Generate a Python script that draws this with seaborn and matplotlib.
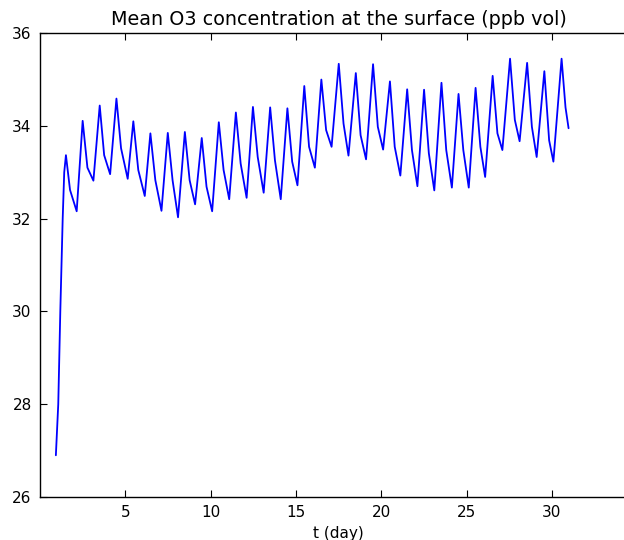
import numpy as np
import pandas as pd
import seaborn as sns
import matplotlib.pyplot as plt
import matplotlib as mpl

# spin-up at the start of the run
start_t = [0.93, 1.07, 1.19, 1.33, 1.42]
start_v = [26.90, 28.00, 30.00, 32.00, 33.00]

# daily maxima
peak_t = [1.52, 2.50, 3.50, 4.48, 5.47, 6.47, 7.49, 8.49, 9.48, 10.48,
          11.48, 12.48, 13.49, 14.50, 15.49, 16.49, 17.51, 18.51, 19.52, 20.51,
          21.52, 22.51, 23.53, 24.53, 25.53, 26.53, 27.55, 28.55, 29.56, 30.57]
peak_v = [33.37, 34.11, 34.44, 34.59, 34.10, 33.84, 33.85, 33.87, 33.74, 34.08,
          34.29, 34.41, 34.40, 34.38, 34.86, 35.00, 35.34, 35.14, 35.33, 34.96,
          34.79, 34.78, 34.93, 34.69, 34.82, 35.08, 35.45, 35.36, 35.18, 35.45]

# kink on the way down after each maximum
shoulder_t = [1.76, 2.78, 3.76, 4.75, 5.76, 6.76, 7.77, 8.77, 9.76, 10.76,
              11.76, 12.76, 13.77, 14.78, 15.77, 16.77, 17.79, 18.79, 19.80, 20.79,
              21.80, 22.79, 23.81, 24.81, 25.81, 26.81, 27.83, 28.83, 29.84, 30.80]
shoulder_v = [32.62, 33.10, 33.37, 33.52, 33.05, 32.83, 32.83, 32.83, 32.69, 33.05,
              33.19, 33.33, 33.26, 33.23, 33.55, 33.91, 34.05, 33.80, 33.98, 33.55,
              33.48, 33.41, 33.48, 33.48, 33.55, 33.84, 34.13, 33.98, 33.69, 34.40]

# daily minima (the last entry is the end of the run)
trough_t = [2.15, 3.13, 4.11, 5.14, 6.14, 7.12, 8.09, 9.09, 10.09, 11.09,
            12.11, 13.11, 14.11, 15.09, 16.11, 17.09, 18.08, 19.11, 20.11, 21.12,
            22.12, 23.11, 24.14, 25.13, 26.09, 27.10, 28.11, 29.11, 30.09, 30.98]
trough_v = [32.16, 32.82, 32.96, 32.86, 32.49, 32.17, 32.03, 32.31, 32.16, 32.42,
            32.45, 32.56, 32.42, 32.72, 33.10, 33.55, 33.36, 33.28, 33.49, 32.93,
            32.70, 32.61, 32.67, 32.67, 32.90, 33.48, 33.67, 33.33, 33.23, 33.95]

t = list(start_t)
o3 = list(start_v)
for i in range(len(peak_t)):
    t += [peak_t[i], shoulder_t[i], trough_t[i]]
    o3 += [peak_v[i], shoulder_v[i], trough_v[i]]
df = pd.DataFrame({"t": t, "o3": o3})

sns.set_style("ticks", {"xtick.direction": "in", "ytick.direction": "in",
                        "axes.edgecolor": "black", "text.color": "black",
                        "xtick.color": "black", "ytick.color": "black",
                        "axes.labelcolor": "black"})
mpl.rcParams['xtick.top'] = True
mpl.rcParams['ytick.right'] = True
mpl.rcParams['xtick.major.size'] = 5
mpl.rcParams['ytick.major.size'] = 5
mpl.rcParams['axes.linewidth'] = 1.0
plt.rcParams['font.family'] = ['DejaVu Sans']

fig = plt.figure(figsize=(6.24, 5.4), dpi=100)
ax = fig.add_axes([0.0641, 0.0796, 0.957, 0.859])

sns.lineplot(x='t', y='o3', data=df, ax=ax, color='#0000ff', lw=1.3,
             estimator=None, sort=False)
ax.set_xlim(0, 35)
ax.set_ylim(26, 36)
ax.set_xticks([5, 10, 15, 20, 25, 30])
ax.set_yticks([26, 28, 30, 32, 34, 36])
ax.tick_params(labelsize=11, width=0.8, pad=6)
ax.set_xlabel("t (day)", fontsize=11)
ax.set_ylabel("")
ax.set_title("Mean O3 concentration at the surface (ppb vol)", fontsize=13.8)

plt.savefig("out.png", dpi=100)
